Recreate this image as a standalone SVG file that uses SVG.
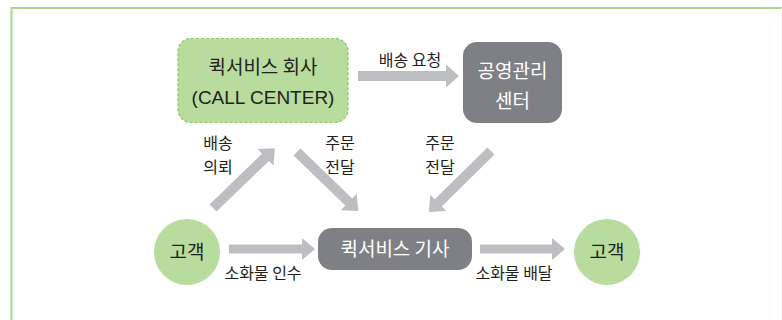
<svg xmlns="http://www.w3.org/2000/svg" width="782" height="320" viewBox="0 0 782 320">
<defs>
<style>
.frame{fill:none;stroke:#a6d98a;stroke-width:2}
.green{fill:#b8dc9e}
.gray{fill:#7f8085}
.arr{fill:#bdbec1}
.t{font-family:"Noto Sans CJK KR","Noto Sans",sans-serif;fill:#231f20;text-anchor:middle}
.lat{font-family:"Liberation Sans","Noto Sans CJK KR",sans-serif}
.w{fill:#ffffff}
.big{font-size:19px}
.sm{font-size:16px}
</style>
</defs>
<rect x="0" y="0" width="782" height="320" fill="#ffffff"/>
<path class="frame" d="M11.5,320 V8 H782"/>
<line x1="781.5" y1="8" x2="781.5" y2="320" stroke="#eef7e8" stroke-width="1"/>

<g id="connectors">
  <path class="arr" d="M358,71 H446 V64.5 L459,76 L446,87.5 V81 H358 Z"/>
  <path class="arr" transform="translate(213,208) rotate(-44)" d="M0,-5 H73 V-11.5 L86,0 L73,11.5 V5 H0 Z"/>
  <path class="arr" transform="translate(297,152) rotate(44)" d="M0,-5 H72 V-11.5 L85,0 L72,11.5 V5 H0 Z"/>
  <path class="arr" transform="translate(491,151) rotate(135.5)" d="M0,-5 H74 V-11.5 L87,0 L74,11.5 V5 H0 Z"/>
  <path class="arr" d="M229,244.5 H302 V238 L315,249 L302,260 V253.5 H229 Z"/>
  <path class="arr" d="M480,244.5 H552 V238 L565,249 L552,260 V253.5 H480 Z"/>
  <text class="t sm" x="410" y="66">배송 요청</text>
  <text class="t sm" x="218" y="149">배송</text>
  <text class="t sm" x="218" y="173">의뢰</text>
  <text class="t sm" x="340" y="149">주문</text>
  <text class="t sm" x="340" y="173">전달</text>
  <text class="t sm" x="440" y="149">주문</text>
  <text class="t sm" x="440" y="173">전달</text>
  <text class="t sm" x="263" y="279">소화물 인수</text>
  <text class="t sm" x="514" y="279">소화물 배달</text>
</g>

<g id="callcenter">
  <rect x="178" y="38.5" width="170" height="84" rx="13" fill="#b8dc9e" stroke="#8cc865" stroke-width="1.2" stroke-dasharray="3,2"/>
  <text class="t big" x="263" y="74">퀵서비스 회사</text>
  <text class="t big lat" x="263" y="104" font-size="18.5">(CALL CENTER)</text>
</g>

<g id="center">
  <rect class="gray" x="463" y="42" width="99" height="81" rx="14"/>
  <text class="t big w" x="512.5" y="78">공영관리</text>
  <text class="t big w" x="512.5" y="108">센터</text>
</g>

<g id="customer1">
  <circle class="green" cx="187" cy="252" r="33"/>
  <text class="t big" x="187" y="258.5">고객</text>
</g>

<g id="driver">
  <rect class="gray" x="318" y="228" width="154" height="42" rx="14"/>
  <text class="t big w" x="395" y="256">퀵서비스 기사</text>
</g>

<g id="customer2">
  <circle class="green" cx="607" cy="252" r="33"/>
  <text class="t big" x="607" y="258.5">고객</text>
</g>
</svg>
